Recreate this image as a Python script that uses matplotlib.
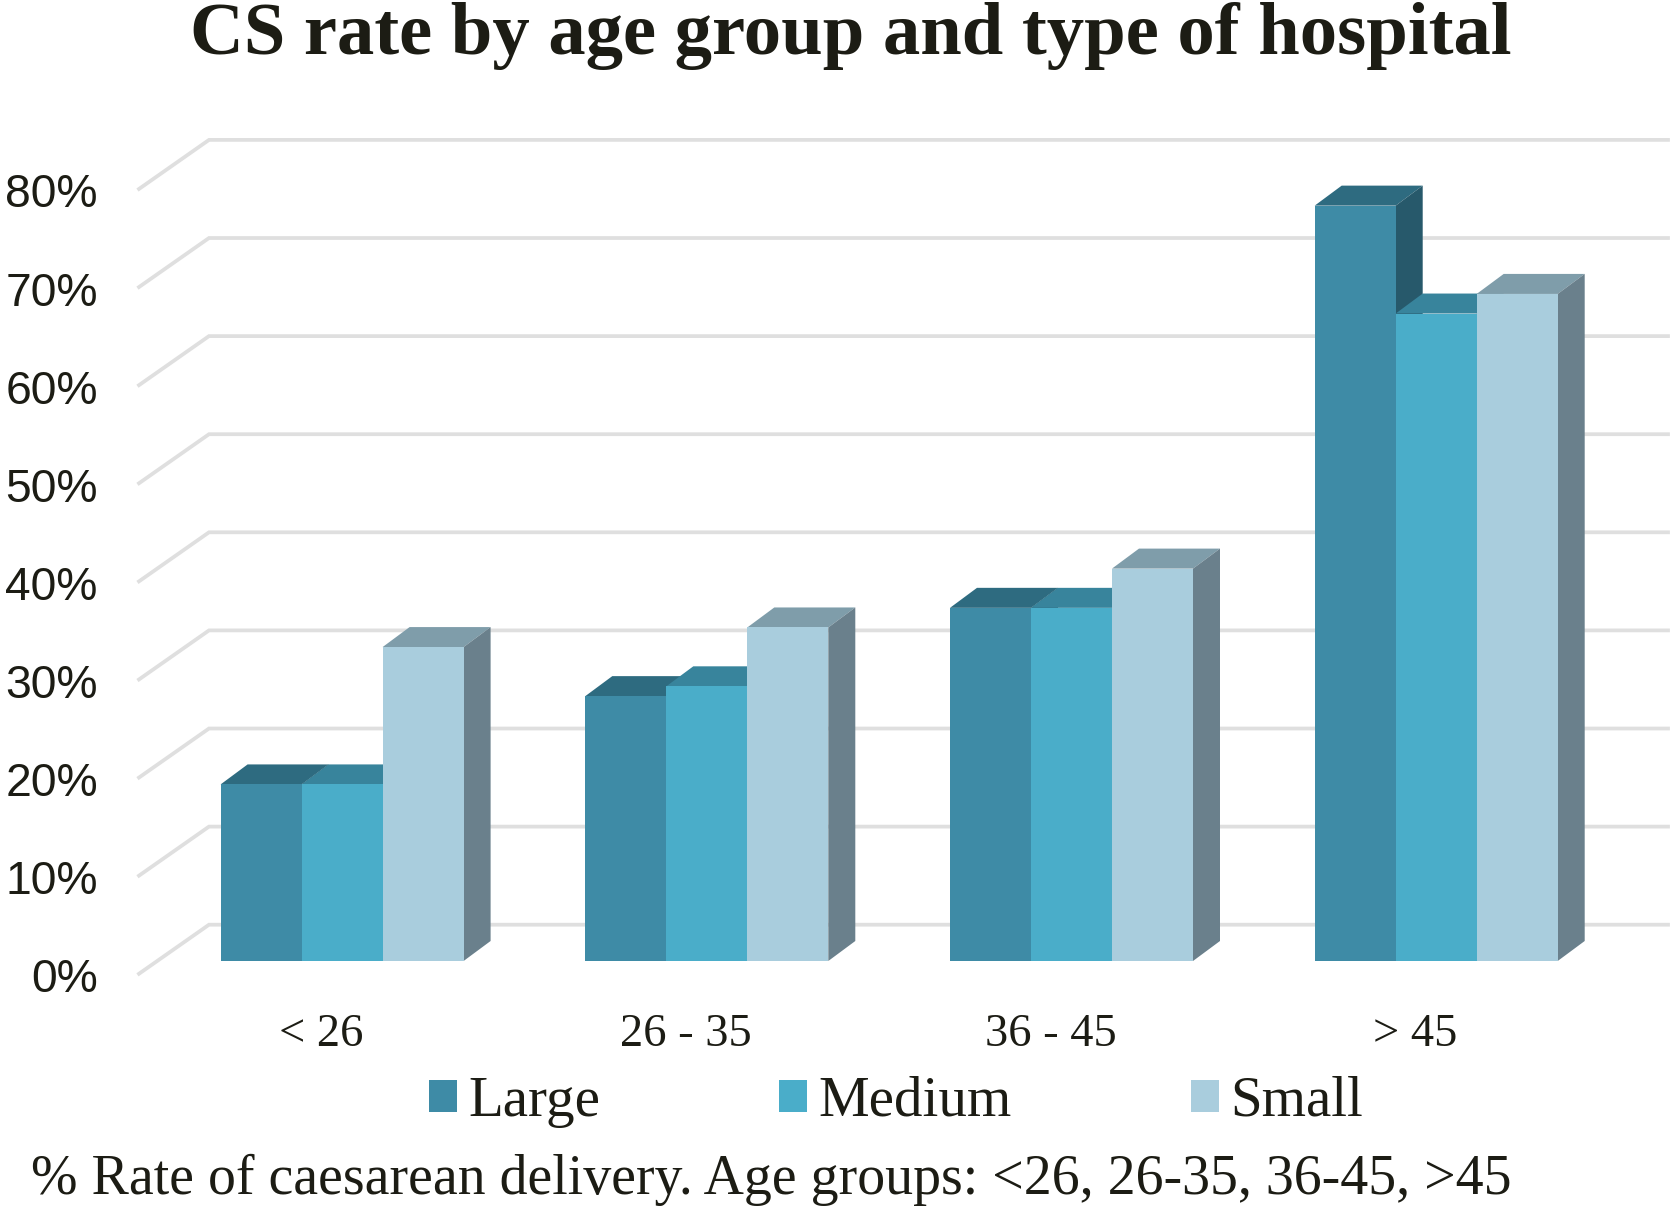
import matplotlib
matplotlib.use("Agg")
import matplotlib.pyplot as plt
from matplotlib.patches import Patch

# --- data ---
age_groups = ["< 26", "26 - 35", "36 - 45", "> 45"]
large = [18, 27, 36, 77]
medium = [18, 28, 36, 66]
small = [32, 34, 40, 68]
series_names = ["Large", "Medium", "Small"]
y_ticks = [0, 10, 20, 30, 40, 50, 60, 70, 80]

# --- style ---
front_cols = ["#3E8BA6", "#4AADC9", "#A9CDDD"]
top_cols = ["#2E6B80", "#38849C", "#7F9DAA"]
side_cols = ["#27596B", "#2F7186", "#6A808C"]
ink = "#1C1C14"
W, H = 1675, 1211
PX_X = 364.7   # pixels per category
PX_Y = 9.81    # pixels per percent
X0 = 321.0     # pixel of first category tick
Y0 = 961.0     # pixel of front 0 %
bar_w = 81.0 / PX_X
bar_off = (220.6 - X0) / PX_X
dx = 27 / PX_X
dy = 20 / PX_Y

fig = plt.figure(figsize=(W / 100, H / 100), dpi=100, facecolor="white")
L, B_px = 102, 1010
ax = fig.add_axes([L / W, 1 - B_px / H, (W - L) / W, B_px / H])
ax.set_xlim((L - X0) / PX_X, (W - X0) / PX_X)
ax.set_ylim((Y0 - B_px) / PX_Y, Y0 / PX_Y)
for s in ax.spines.values():
    s.set_visible(False)

# gridlines: front-left diagonal then along back wall
back = 3.7
front = -1.3
gx0, gx1, gx2 = (139 - X0) / PX_X, (209 - X0) / PX_X, (1668 - X0) / PX_X
for v in y_ticks:
    ax.plot([gx0, gx1, gx2], [v + front, v + back, v + back], color="#DFDFDF",
            lw=2.7, solid_joinstyle="miter", zorder=1, clip_on=False)

# bars, with depth faces
z = 2
for i in range(len(age_groups)):
    for j, vals in enumerate([large, medium, small]):
        v = vals[i]
        x = i + bar_off + j * bar_w
        ax.fill([x, x + dx, x + bar_w + dx, x + bar_w], [v, v + dy, v + dy, v],
                color=top_cols[j], lw=0, zorder=z)
        ax.fill([x + bar_w, x + bar_w + dx, x + bar_w + dx, x + bar_w],
                [0, dy, v + dy, v], color=side_cols[j], lw=0, zorder=z)
        ax.bar(x, v, width=bar_w, align="edge", color=front_cols[j], lw=0, zorder=z + 0.5)
        z += 1

# axis labels
ax.set_yticks([v - 1.45 for v in y_ticks], [f"{v}%" for v in y_ticks],
              family="Liberation Sans", fontsize=33.3, color=ink)
ax.set_xticks(range(len(age_groups)), age_groups, family="Liberation Serif",
              fontsize=33.5, color=ink)
ax.tick_params(axis="both", length=0)
ax.tick_params(axis="y", pad=3)
ax.tick_params(axis="x", pad=2.5)

# title, legend, note
fig.text(0.5 * (188 + 1513) / W, 1 - 36 / H, "CS rate by age group and type of hospital",
         family="Liberation Serif", fontweight="bold", fontsize=53.7, color=ink,
         ha="center", va="center")
handles = [Patch(facecolor=c, edgecolor="none") for c in front_cols]
fig.legend(handles, series_names, ncol=3, loc="center", bbox_to_anchor=(896 / W, 1 - 1102 / H),
           frameon=False, prop={"family": "Liberation Serif", "size": 41},
           labelcolor=ink, handlelength=0.49, handleheight=0.49, handletextpad=0.2,
           columnspacing=3.15, borderpad=0, borderaxespad=0)
fig.text(31 / W, 1 - 1180 / H, "% Rate of caesarean delivery. Age groups: <26, 26-35, 36-45, >45",
         family="Liberation Serif", fontsize=40.26, color=ink, ha="left", va="center")

fig.savefig("out.png", dpi=100)
